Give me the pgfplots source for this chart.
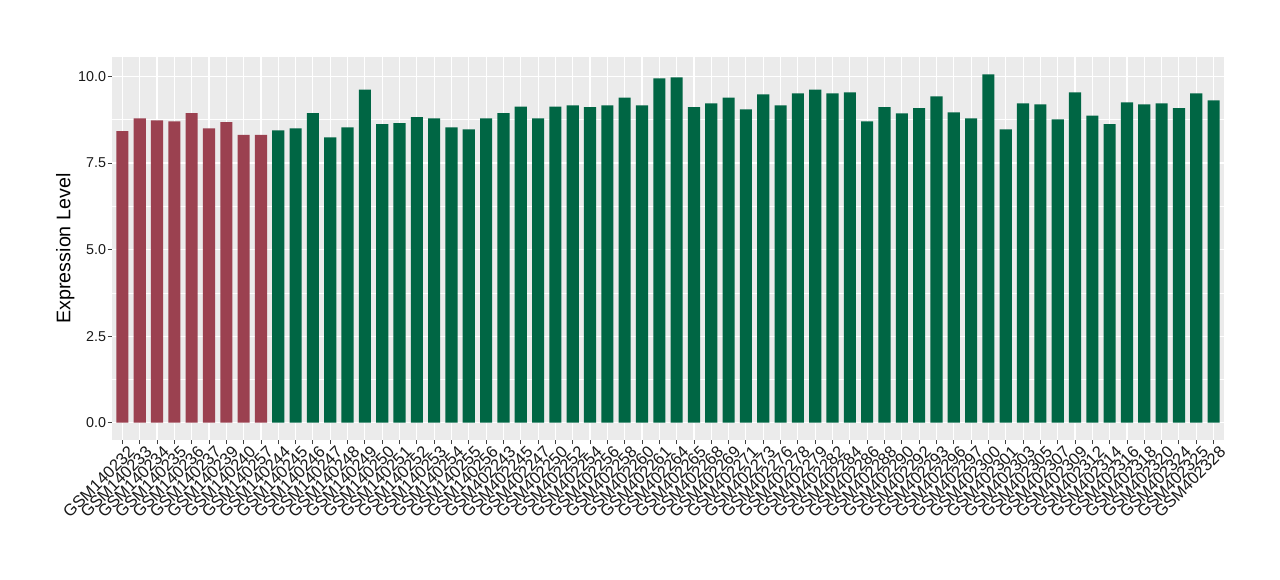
\documentclass[border=0pt]{standalone}
\usepackage{pgfplots}
\pgfplotsset{compat=1.18}
\usepackage{pgfplotstable}
\usepackage{fontspec}
\setmainfont{Liberation Sans}
\definecolor{redbar}{RGB}{155,65,80}
\definecolor{greenbar}{RGB}{0,102,68}
\definecolor{panel}{RGB}{235,235,235}

\pgfplotstableread{
x y
0 8.42
1 8.79
2 8.73
3 8.70
4 8.94
5 8.50
6 8.68
7 8.31
8 8.31
}\redtab

\pgfplotstableread{
x y
9 8.44
10 8.50
11 8.94
12 8.24
13 8.53
14 9.62
15 8.62
16 8.65
17 8.82
18 8.79
19 8.53
20 8.47
21 8.79
22 8.94
23 9.13
24 8.79
25 9.13
26 9.16
27 9.11
28 9.16
29 9.39
30 9.16
31 9.94
32 9.97
33 9.11
34 9.22
35 9.39
36 9.05
37 9.48
38 9.16
39 9.51
40 9.62
41 9.51
42 9.54
43 8.70
44 9.11
45 8.93
46 9.08
47 9.42
48 8.96
49 8.79
50 10.06
51 8.47
52 9.22
53 9.19
54 8.76
55 9.54
56 8.87
57 8.62
58 9.25
59 9.19
60 9.22
61 9.08
62 9.51
63 9.31
}\greentab

\begin{document}
\begin{tikzpicture}[x=1pt,y=1pt]
\path[use as bounding box] (0,0) rectangle (1280,580);
\begin{axis}[
  at={(112pt,140pt)}, anchor=south west,
  scale only axis, width=1112pt, height=383pt,
  xmin=-0.6, xmax=63.6, ymin=-0.5, ymax=10.56,
  axis background/.style={fill=panel},
  axis line style={draw=none},
  xtick={0,...,63},
  xticklabels={GSM140232,GSM140233,GSM140234,GSM140235,GSM140236,GSM140237,GSM140239,GSM140240,GSM140257,GSM140244,GSM140245,GSM140246,GSM140247,GSM140248,GSM140249,GSM140250,GSM140251,GSM140252,GSM140253,GSM140254,GSM140255,GSM140256,GSM402243,GSM402245,GSM402247,GSM402250,GSM402252,GSM402254,GSM402256,GSM402258,GSM402260,GSM402261,GSM402264,GSM402265,GSM402268,GSM402269,GSM402271,GSM402273,GSM402276,GSM402278,GSM402279,GSM402282,GSM402284,GSM402286,GSM402288,GSM402290,GSM402292,GSM402293,GSM402296,GSM402297,GSM402300,GSM402301,GSM402303,GSM402305,GSM402307,GSM402309,GSM402312,GSM402314,GSM402316,GSM402318,GSM402320,GSM402324,GSM402325,GSM402328},
  ytick={0,2.5,5,7.5,10},
  yticklabels={0.0,2.5,5.0,7.5,10.0},
  minor ytick={1.25,3.75,6.25,8.75},
  xtick pos=bottom, ytick pos=left,
  tick align=outside,
  major tick length=4.3pt, minor tick length=0pt,
  tick style={color=black!75, line width=0.9pt},
  xmajorgrids, ymajorgrids, yminorgrids,
  major grid style={white, line width=1.1pt},
  minor grid style={white, line width=0.55pt},
  xticklabel style={rotate=45, anchor=north east, font=\fontsize{16.5}{16.5}\selectfont, inner sep=1pt, xshift=4pt, yshift=-3pt, text=black!90},
  yticklabel style={font=\fontsize{14.3}{14.3}\selectfont, inner sep=1pt, xshift=-0.5pt, text=black!90},
  ylabel={Expression Level},
  ylabel style={at={(axis description cs:-0.042,0.5)}, anchor=center, rotate=0, font=\fontsize{19.7}{20}\selectfont},
]
\addplot[ybar, bar width=0.7, bar shift=0pt, fill=redbar, draw=none] table[x=x,y=y] {\redtab};
\addplot[ybar, bar width=0.7, bar shift=0pt, fill=greenbar, draw=none] table[x=x,y=y] {\greentab};
\end{axis}
\end{tikzpicture}
\end{document}
